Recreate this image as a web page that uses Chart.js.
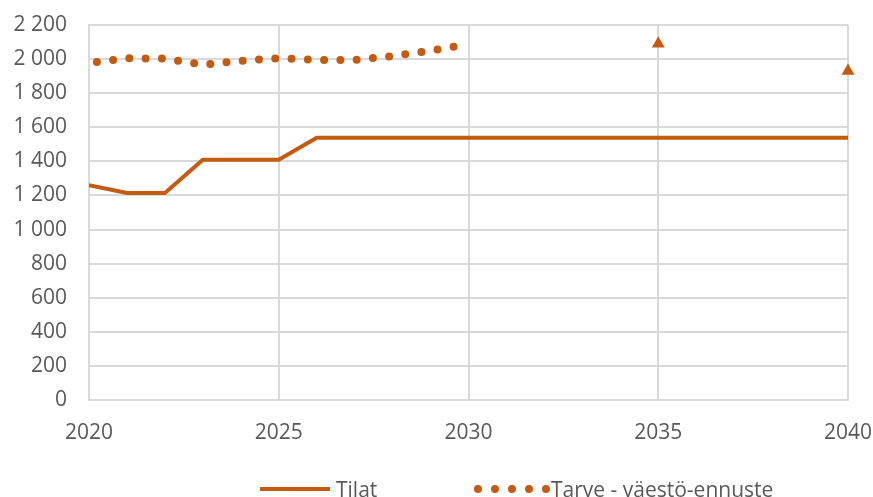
<!DOCTYPE html>
<html>
<head>
<meta charset="utf-8">
<script src="https://cdn.jsdelivr.net/npm/chart.js@4/dist/chart.umd.min.js"></script>
<style>
  html, body { margin: 0; padding: 0; background: #fff; }
  #wrap { width: 873px; height: 497px; }
</style>
</head>
<body>
<div id="wrap"><canvas id="chart" width="873" height="497"></canvas></div>
<script>
const tilatYears = [2020, 2021, 2022, 2023, 2024, 2025, 2026, 2030, 2035, 2040];
const tilatValues = [1260, 1215, 1215, 1410, 1410, 1410, 1538, 1538, 1538, 1538];

const tarveYears = [2020, 2021, 2022, 2023, 2024, 2025, 2026, 2027, 2028, 2029, 2030];
const tarveValues = [1978, 2005, 2003, 1967, 1990, 2005, 1995, 1995, 2018, 2050, 2088];

const ennusteYears = [2035, 2040];
const ennusteValues = [2090, 1930];

const xTicks = [2020, 2025, 2030, 2035, 2040];
const yMax = 2200;

const orange = "#c55a11";
const textGray = "#595959";
const gridGray = "#d9d9d9";
const font = { family: "'Open Sans', 'Noto Sans', sans-serif", size: 21 };

const toPoints = (xs, ys) => xs.map((x, i) => ({ x, y: ys[i] }));

const formatThousands = (v) => String(v).replace(/\B(?=(\d{3})+(?!\d))/g, " ");

// custom legend: line sample + text, drawn under the plot
const bottomLegend = {
  id: "bottomLegend",
  afterDraw(chart) {
    const ctx = chart.ctx;
    const y = 489;
    ctx.save();
    ctx.font = `${font.size}px ${font.family}`;
    ctx.fillStyle = textGray;
    ctx.textBaseline = "middle";

    // Tilat
    ctx.strokeStyle = orange;
    ctx.lineWidth = 4;
    ctx.lineCap = "butt";
    ctx.beginPath();
    ctx.moveTo(260, y);
    ctx.lineTo(330, y);
    ctx.stroke();
    ctx.fillText("Tilat", 336, y + 2);

    // Tarve
    ctx.lineWidth = 8;
    ctx.lineCap = "round";
    ctx.setLineDash([0, 17]);
    ctx.beginPath();
    ctx.moveTo(478, y);
    ctx.lineTo(547, y);
    ctx.stroke();
    ctx.setLineDash([]);
    ctx.fillText("Tarve - väestö-ennuste", 551, y + 2);
    ctx.restore();
  },
};

new Chart(document.getElementById("chart").getContext("2d"), {
  type: "line",
  data: {
    datasets: [
      {
        label: "Tilat",
        data: toPoints(tilatYears, tilatValues),
        borderColor: orange,
        borderWidth: 4,
        pointRadius: 0,
        tension: 0,
      },
      {
        label: "Tarve - väestö-ennuste",
        data: toPoints(tarveYears, tarveValues),
        borderColor: orange,
        borderWidth: 8,
        borderCapStyle: "round",
        borderDash: [0, 16.3],
        borderDashOffset: 8.3,
        pointRadius: 0,
        tension: 0,
      },
      {
        label: "Ennuste",
        data: toPoints(ennusteYears, ennusteValues),
        showLine: false,
        clip: false,
        pointStyle: "triangle",
        pointRadius: 7.5,
        pointBackgroundColor: orange,
        pointBorderColor: orange,
        pointBorderWidth: 0,
      },
    ],
  },
  options: {
    responsive: false,
    animation: false,
    layout: {
      padding: { top: 25, right: 25, left: 0, bottom: 0 },
    },
    plugins: {
      legend: { display: false },
      tooltip: { enabled: false },
    },
    scales: {
      x: {
        type: "linear",
        min: 2020,
        max: 2040,
        afterBuildTicks: (scale) => {
          scale.ticks = xTicks.map((v) => ({ value: v }));
        },
        afterFit: (scale) => {
          scale.height = 97;
          scale.paddingLeft = 0;
          scale.paddingRight = 0;
        },
        grid: {
          color: gridGray,
          lineWidth: 2,
          drawTicks: false,
        },
        border: { color: gridGray, width: 2 },
        ticks: {
          color: textGray,
          font: font,
          padding: 20,
          maxRotation: 0,
          callback: (value) => String(value),
        },
      },
      y: {
        min: 0,
        max: yMax,
        afterFit: (scale) => {
          scale.width = 89;
          scale.paddingTop = 0;
          scale.paddingBottom = 0;
        },
        grid: {
          color: gridGray,
          lineWidth: 2,
          drawTicks: false,
        },
        border: { color: gridGray, width: 2 },
        ticks: {
          stepSize: 200,
          color: textGray,
          font: font,
          padding: 22,
          callback: (value) => formatThousands(value),
        },
      },
    },
  },
  plugins: [bottomLegend],
});
</script>
</body>
</html>
